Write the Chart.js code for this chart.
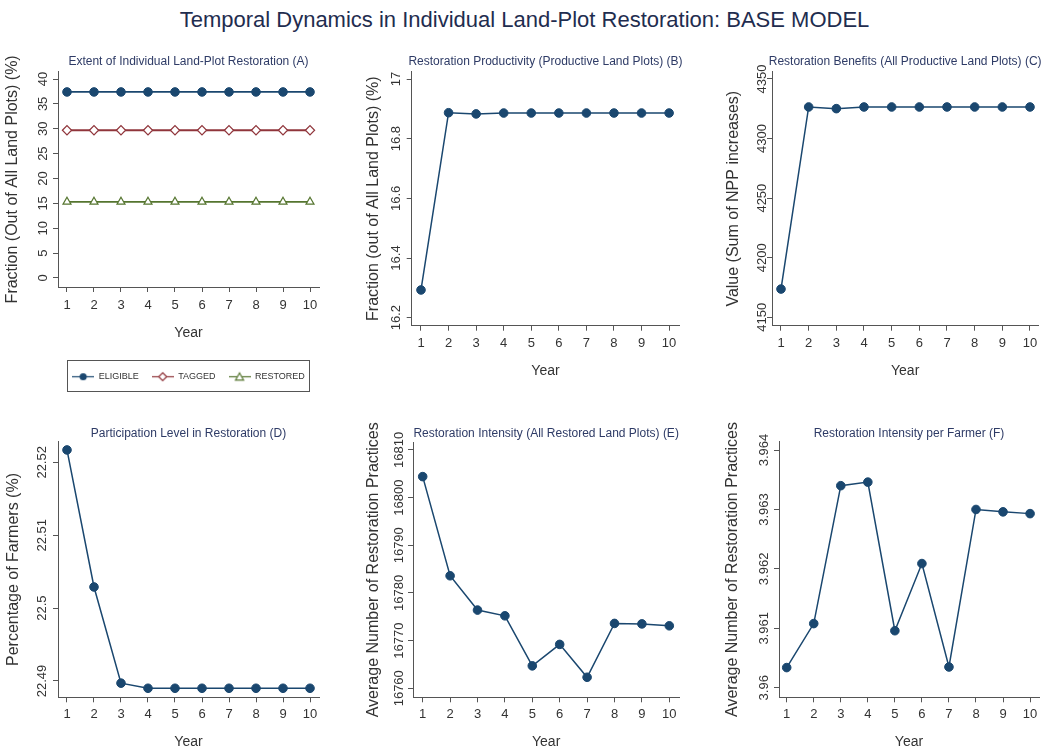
<!DOCTYPE html>
<html><head><meta charset="utf-8">
<script src="https://cdn.jsdelivr.net/npm/chart.js@4.4.1/dist/chart.umd.min.js"></script>
<style>
html,body{margin:0;padding:0;background:#fff;width:1049px;height:748px;overflow:hidden;}
#mainTitle{position:absolute;left:0;top:0;width:1049px;height:40px;line-height:40px;text-align:center;font-size:22px;font-family:'Liberation Sans',Arial,sans-serif;color:#1f2d4f;}
canvas{position:absolute;}
</style></head><body>
<div id="mainTitle">Temporal Dynamics in Individual Land-Plot Restoration: BASE MODEL</div>
<script>
// ---------------- data ----------------
const years = [1, 2, 3, 4, 5, 6, 7, 8, 9, 10];
const xTickLabels = ['1', '2', '3', '4', '5', '6', '7', '8', '9', '10'];

const eligible = [37.4, 37.4, 37.4, 37.4, 37.4, 37.4, 37.4, 37.4, 37.4, 37.4];
const tagged   = [29.7, 29.7, 29.7, 29.7, 29.7, 29.7, 29.7, 29.7, 29.7, 29.7];
const restored = [15.3, 15.3, 15.3, 15.3, 15.3, 15.3, 15.3, 15.3, 15.3, 15.3];
const legendLabels = ['ELIGIBLE', 'TAGGED', 'RESTORED'];

const productivity = [16.293, 16.887, 16.883, 16.886, 16.886, 16.886, 16.886, 16.886, 16.886, 16.886];
const benefits = [4173.7, 4326.5, 4325.1, 4326.5, 4326.5, 4326.5, 4326.5, 4326.5, 4326.5, 4326.5];
const participation = [22.5217, 22.5029, 22.4897, 22.4890, 22.4890, 22.4890, 22.4890, 22.4890, 22.4890, 22.4890];
const intensityAll = [16804.4, 16783.6, 16776.4, 16775.2, 16764.7, 16769.2, 16762.3, 16773.6, 16773.5, 16773.1];
const intensityFarmer = [3.96034, 3.96108, 3.9634, 3.96346, 3.96096, 3.96209, 3.96035, 3.963, 3.96296, 3.96293];

const yTicksA = [0, 5, 10, 15, 20, 25, 30, 35, 40];
const yLabelsA = ['0', '5', '10', '15', '20', '25', '30', '35', '40'];
const yTicksB = [16.2, 16.4, 16.6, 16.8, 17];
const yLabelsB = ['16.2', '16.4', '16.6', '16.8', '17'];
const yTicksC = [4150, 4200, 4250, 4300, 4350];
const yLabelsC = ['4150', '4200', '4250', '4300', '4350'];
const yTicksD = [22.49, 22.5, 22.51, 22.52];
const yLabelsD = ['22.49', '22.5', '22.51', '22.52'];
const yTicksE = [16760, 16770, 16780, 16790, 16800, 16810];
const yLabelsE = ['16760', '16770', '16780', '16790', '16800', '16810'];
const yTicksF = [3.96, 3.961, 3.962, 3.963, 3.964];
const yLabelsF = ['3.96', '3.961', '3.962', '3.963', '3.964'];

// ---------------- styles ----------------
const FONT = "'Liberation Sans', Arial, sans-serif";
const NAVY = '#1a476f', MAROON = '#90353b', GREEN = '#55752f';
const AXIS = '#555555', TXT = '#333333', SUB = '#2e3b66';
const TL = 5;

const mctx = document.createElement('canvas').getContext('2d');
function widest(labels, size) {
  mctx.font = 'normal ' + size + 'px ' + FONT;
  return Math.max(...labels.map(l => mctx.measureText(l).width));
}

function legendIcon(color, shape) {
  const c = document.createElement('canvas');
  c.width = 22; c.height = 11;
  const g = c.getContext('2d');
  g.strokeStyle = color; g.lineWidth = 1.2;
  g.beginPath(); g.moveTo(0, 5.5); g.lineTo(22, 5.5); g.stroke();
  g.beginPath();
  if (shape === 'circle') { g.arc(11, 5.5, 3.6, 0, Math.PI * 2); g.fillStyle = color; g.fill(); }
  else if (shape === 'rectRot') { g.moveTo(11, 1.5); g.lineTo(15, 5.5); g.lineTo(11, 9.5); g.lineTo(7, 5.5); g.closePath(); g.fillStyle = '#fff'; g.fill(); g.stroke(); }
  else { g.moveTo(11, 1.8); g.lineTo(15, 8.8); g.lineTo(7, 8.8); g.closePath(); g.fillStyle = '#fff'; g.fill(); g.stroke(); }
  return c;
}

const panelText = {
  id: 'panelText',
  afterDraw(chart, args, o) {
    const ctx = chart.ctx, ca = chart.chartArea;
    ctx.save();
    ctx.textAlign = 'center'; ctx.textBaseline = 'middle';
    ctx.fillStyle = SUB; ctx.font = 'normal 12px ' + FONT;
    ctx.fillText(o.subtitle, (ca.left + ca.right) / 2, o.subY);
    ctx.translate(o.yTitleX, (ca.top + ca.bottom) / 2);
    ctx.rotate(-Math.PI / 2);
    ctx.fillStyle = TXT; ctx.font = 'normal 16px ' + FONT;
    ctx.fillText(o.yTitle, 0, 0);
    ctx.restore();
  }
};

const legendBorder = {
  id: 'legendBorder',
  afterDraw(chart) {
    const lg = chart.legend;
    if (!lg || !lg.legendHitBoxes || !lg.legendHitBoxes.length) return;
    const hb = lg.legendHitBoxes, last = hb[hb.length - 1];
    const x0 = Math.round(hb[0].left - 5) + 0.5;
    const x1 = Math.round(last.left + last.width + 4) + 0.5;
    const cy = hb[0].top + hb[0].height / 2;
    const y0 = Math.round(cy - 16.5) + 0.5, y1 = Math.round(cy + 14.5) + 0.5;
    const ctx = chart.ctx;
    ctx.save(); ctx.strokeStyle = AXIS; ctx.lineWidth = 1;
    ctx.strokeRect(x0, y0, x1 - x0, y1 - y0);
    ctx.restore();
  }
};

function series(label, values, color, shape, filled) {
  return {
    label, data: years.map((x, i) => ({ x, y: values[i] })),
    borderColor: color, backgroundColor: color, borderWidth: 1.5,
    pointStyle: shape, pointRadius: shape === 'circle' ? 4.3 : 4.6,
    pointBackgroundColor: filled ? color : '#ffffff', pointBorderColor: color,
    pointBorderWidth: filled ? 1 : 1.2, tension: 0, clip: false
  };
}

function panel(p) {
  const [cx, cy, cw, ch] = p.box;
  const a = p.area;
  const cv = document.createElement('canvas');
  cv.width = cw; cv.height = ch;
  cv.style.left = cx + 'px'; cv.style.top = cy + 'px';
  document.body.appendChild(cv);

  const Wy = a.l - cx;
  let Hx, xTitlePadB, padB;
  if (p.legend) {
    const legTop = p.legend.cy - (p.legend.pad + 4.5);
    Hx = legTop - a.b;
    xTitlePadB = legTop - p.yearY - 8.4;
    padB = cy + ch - legTop - (9 + p.legend.pad + 10);
  } else {
    Hx = cy + ch - a.b; padB = 0;
    xTitlePadB = cy + ch - p.yearY - 8.4;
  }
  const xTickPad = p.xLabY - a.b - TL - 7.8;
  const yTickPad = (a.l - p.yLabX) - TL - widest(p.yLabels, 13) / 2;

  const grid = { display: true, drawOnChartArea: false, drawTicks: true, tickLength: TL, color: AXIS, lineWidth: 1 };
  const border = { display: true, color: AXIS, width: 1 };

  const legendOpts = p.legend ? {
    display: true, position: 'bottom', fullSize: false,
    labels: {
      usePointStyle: true, pointStyleWidth: 22, padding: p.legend.pad,
      font: { size: 9, family: FONT }, color: TXT,
      generateLabels: (chart) => chart.data.datasets.map((d, i) => ({
        text: legendLabels[i], pointStyle: legendIcon(d.borderColor, d.pointStyle),
        fillStyle: d.borderColor, strokeStyle: d.borderColor, lineWidth: 0,
        hidden: false, datasetIndex: i, fontColor: TXT
      }))
    }
  } : { display: false };

  new Chart(cv, {
    type: 'line',
    data: { datasets: p.datasets },
    options: {
      responsive: false, animation: false, events: [], devicePixelRatio: 1,
      layout: { padding: { left: 0, right: cx + cw - a.r, top: a.t - cy, bottom: padB } },
      scales: {
        x: {
          type: 'linear', min: p.xMin, max: p.xMax,
          afterBuildTicks: s => { s.ticks = years.map(v => ({ value: v })); },
          afterFit: s => { s.height = Hx; },
          ticks: { callback: (v, i) => xTickLabels[i], minRotation: 0, maxRotation: 0, autoSkip: false,
                   padding: xTickPad, font: { size: 13, family: FONT }, color: TXT },
          grid, border,
          title: { display: true, text: 'Year', font: { size: 14, family: FONT }, color: TXT,
                   padding: { top: 0, bottom: xTitlePadB } }
        },
        y: {
          type: 'linear', min: p.yMin, max: p.yMax,
          afterBuildTicks: s => { s.ticks = p.yTicks.map(v => ({ value: v })); },
          afterFit: s => { s.width = Wy; },
          ticks: { callback: (v, i) => p.yLabels[i], minRotation: 90, maxRotation: 90, crossAlign: 'center',
                   autoSkip: false, padding: yTickPad, font: { size: 13, family: FONT }, color: TXT },
          grid, border,
          title: { display: false }
        }
      },
      plugins: {
        legend: legendOpts,
        title: { display: false },
        tooltip: { enabled: false },
        panelText: { subtitle: p.subtitle, subY: p.subY - cy, yTitle: p.yTitle, yTitleX: p.yTitleX - cx }
      }
    },
    plugins: p.legend ? [panelText, legendBorder] : [panelText]
  });
}

// Panel A
panel({
  box: [0, 40, 350, 360], area: { l: 58, r: 319, t: 71.7, b: 287 },
  xMin: 0.667, xMax: 10.333, yMin: -1.81, yMax: 41.47,
  yTicks: yTicksA, yLabels: yLabelsA,
  subtitle: 'Extent of Individual Land-Plot Restoration (A)', subY: 61.7,
  yTitle: 'Fraction (Out of All Land Plots) (%)', yTitleX: 13,
  yLabX: 43.3, xLabY: 305, yearY: 332.7,
  legend: { cy: 376.7, pad: 13 },
  datasets: [
    Object.assign(series('ELIGIBLE', eligible, NAVY, 'circle', true), { borderWidth: 1.8 }),
    Object.assign(series('TAGGED', tagged, MAROON, 'rectRot', false), { borderWidth: 1.8 }),
    Object.assign(series('RESTORED', restored, GREEN, 'triangle', false), { borderWidth: 1.8 })
  ]
});
// Panel B
panel({
  box: [350, 40, 350, 360], area: { l: 411.7, r: 679.3, t: 71.7, b: 325.7 },
  xMin: 0.663, xMax: 10.37, yMin: 16.1732, yMax: 17.0245,
  yTicks: yTicksB, yLabels: yLabelsB,
  subtitle: 'Restoration Productivity (Productive Land Plots) (B)', subY: 61.7,
  yTitle: 'Fraction (out of All Land Plots) (%)', yTitleX: 373.3,
  yLabX: 396.7, xLabY: 343.3, yearY: 371,
  datasets: [series('Productivity', productivity, NAVY, 'circle', true)]
});
// Panel C
panel({
  box: [700, 40, 349, 360], area: { l: 772, r: 1038.3, t: 71.7, b: 325.7 },
  xMin: 0.675, xMax: 10.3, yMin: 4142.95, yMax: 4356.1,
  yTicks: yTicksC, yLabels: yLabelsC,
  subtitle: 'Restoration Benefits (All Productive Land Plots) (C)', subY: 61.7,
  yTitle: 'Value (Sum of NPP increases)', yTitleX: 733.3,
  yLabX: 762.5, xLabY: 343.3, yearY: 371,
  datasets: [series('Benefits', benefits, NAVY, 'circle', true)]
});
// Panel D
panel({
  box: [0, 410, 350, 338], area: { l: 58, r: 319, t: 441.7, b: 697.3 },
  xMin: 0.667, xMax: 10.333, yMin: 22.48776, yMax: 22.52283,
  yTicks: yTicksD, yLabels: yLabelsD,
  subtitle: 'Participation Level in Restoration (D)', subY: 433.3,
  yTitle: 'Percentage of Farmers (%)', yTitleX: 13.3,
  yLabX: 42.7, xLabY: 714, yearY: 741.7,
  datasets: [series('Participation', participation, NAVY, 'circle', true)]
});
// Panel E
panel({
  box: [350, 410, 350, 338], area: { l: 413, r: 679.3, t: 442.3, b: 697.3 },
  xMin: 0.646, xMax: 10.365, yMin: 16758.1, yMax: 16811.6,
  yTicks: yTicksE, yLabels: yLabelsE,
  subtitle: 'Restoration Intensity (All Restored Land Plots) (E)', subY: 433.3,
  yTitle: 'Average Number of Restoration Practices', yTitleX: 373.3,
  yLabX: 399.3, xLabY: 714, yearY: 741.7,
  datasets: [series('Intensity', intensityAll, NAVY, 'circle', true)]
});
// Panel F
panel({
  box: [700, 410, 349, 338], area: { l: 779, r: 1039, t: 441.7, b: 697.3 },
  xMin: 0.715, xMax: 10.33, yMin: 3.95984, yMax: 3.96414,
  yTicks: yTicksF, yLabels: yLabelsF,
  subtitle: 'Restoration Intensity per Farmer (F)', subY: 433.3,
  yTitle: 'Average Number of Restoration Practices', yTitleX: 732.7,
  yLabX: 764, xLabY: 714, yearY: 741.7,
  datasets: [series('Intensity per farmer', intensityFarmer, NAVY, 'circle', true)]
});
</script>
</body></html>
